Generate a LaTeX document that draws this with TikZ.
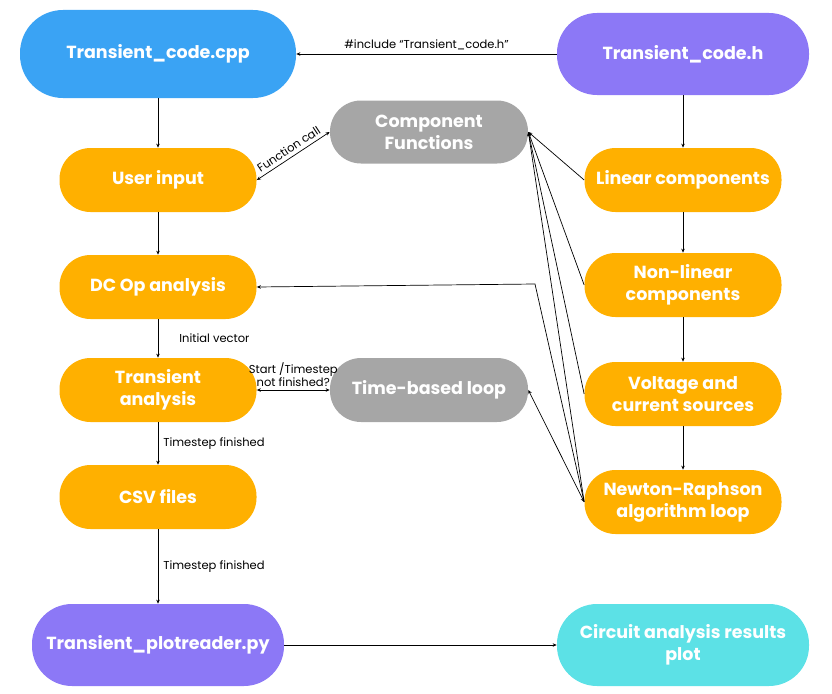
\documentclass[tikz,border=0pt]{standalone}
\usepackage{fontspec}
\setmainfont{Poppins}
\usetikzlibrary{arrows.meta}
\definecolor{cppblue}{HTML}{3AA3F4}
\definecolor{hpurple}{HTML}{8C78F6}
\definecolor{compgray}{HTML}{A6A6A6}
\definecolor{steporange}{HTML}{FFB000}
\definecolor{plotcyan}{HTML}{5CE1E6}

\begin{document}
\begin{tikzpicture}[x=1pt,y=1pt,>={Stealth[length=4pt,width=3.5pt]},line width=.7pt,
    blk/.style={rectangle,rounded corners=31pt,minimum width=197pt,minimum height=64pt,
        inner sep=0pt,text=white,align=center,font=\fontsize{17.5}{22}\selectfont\bfseries},
    bigblk/.style={blk,rounded corners=40pt,minimum width=252pt,minimum height=82pt},
    lbl/.style={font=\fontsize{11.5}{13}\selectfont,text=black,inner sep=1pt}]
\useasboundingbox (0,0) rectangle (832,-693);

% left column
\node[bigblk,fill=cppblue,minimum width=276pt,minimum height=88pt,rounded corners=43pt](cpp) at (158,-54){Transient\_code.cpp};
\node[blk,fill=steporange](user) at (158,-180){User input};
\node[blk,fill=steporange](dcop) at (158,-287){DC Op analysis};
\node[blk,fill=steporange](trans) at (158,-390){Transient\\analysis};
\node[blk,fill=steporange](csv) at (158,-497){CSV files};
\node[bigblk,fill=hpurple](plotpy) at (158,-645){Transient\_plotreader.py};

% middle
\node[blk,fill=compgray,minimum width=198pt,minimum height=63pt](comp) at (429,-132){Component\\Functions};
\node[blk,fill=compgray,minimum width=198pt](loop) at (429,-390){Time-based loop};

% right column
\node[bigblk,fill=hpurple](hdr) at (683,-54){Transient\_code.h};
\node[blk,fill=steporange](lin) at (683,-180){Linear components};
\node[blk,fill=steporange](nonlin) at (683,-285){Non-linear\\components};
\node[blk,fill=steporange](src) at (683,-394){Voltage and\\current sources};
\node[blk,fill=steporange](newton) at (683,-502){Newton-Raphson\\algorithm loop};
\node[bigblk,fill=plotcyan](result) at (683,-645){Circuit analysis results\\plot};

\coordinate (bend) at (535,-284);

\draw[->](hdr)--node[lbl,above=3pt]{\#include “Transient\_code.h”}(cpp);
\draw[->](cpp)--(user);
\draw[<->](user.east)--node[lbl,above=2.5pt,sloped]{Function call}(comp.west);
\draw[->](user)--(dcop);
\draw[->](dcop)--node[lbl,right=20pt]{Initial vector}(trans);
\draw[<->](trans)--node[lbl,above=2pt,align=center]{Start /Timestep\\not finished?}(loop);
\draw[->](trans)--node[lbl,right=4pt]{Timestep finished}(csv);
\draw[->](csv)--node[lbl,right=4pt]{Timestep finished}(plotpy);
\draw[->](plotpy)--(result);

\draw[->](hdr)--(lin);
\draw[->](lin)--(nonlin);
\draw[->](nonlin)--(src);
\draw[->](src)--(newton);

\draw[->](lin.west)--(comp.east);
\draw[->](nonlin.west)--(comp.east);
\draw[->](src.west)--(comp.east);
\draw[->](newton.west)--(comp.east);
\draw[->](newton.west)--(bend)--(dcop.east);
\draw[<->](loop.east)--(newton.west);

\end{tikzpicture}
\end{document}
